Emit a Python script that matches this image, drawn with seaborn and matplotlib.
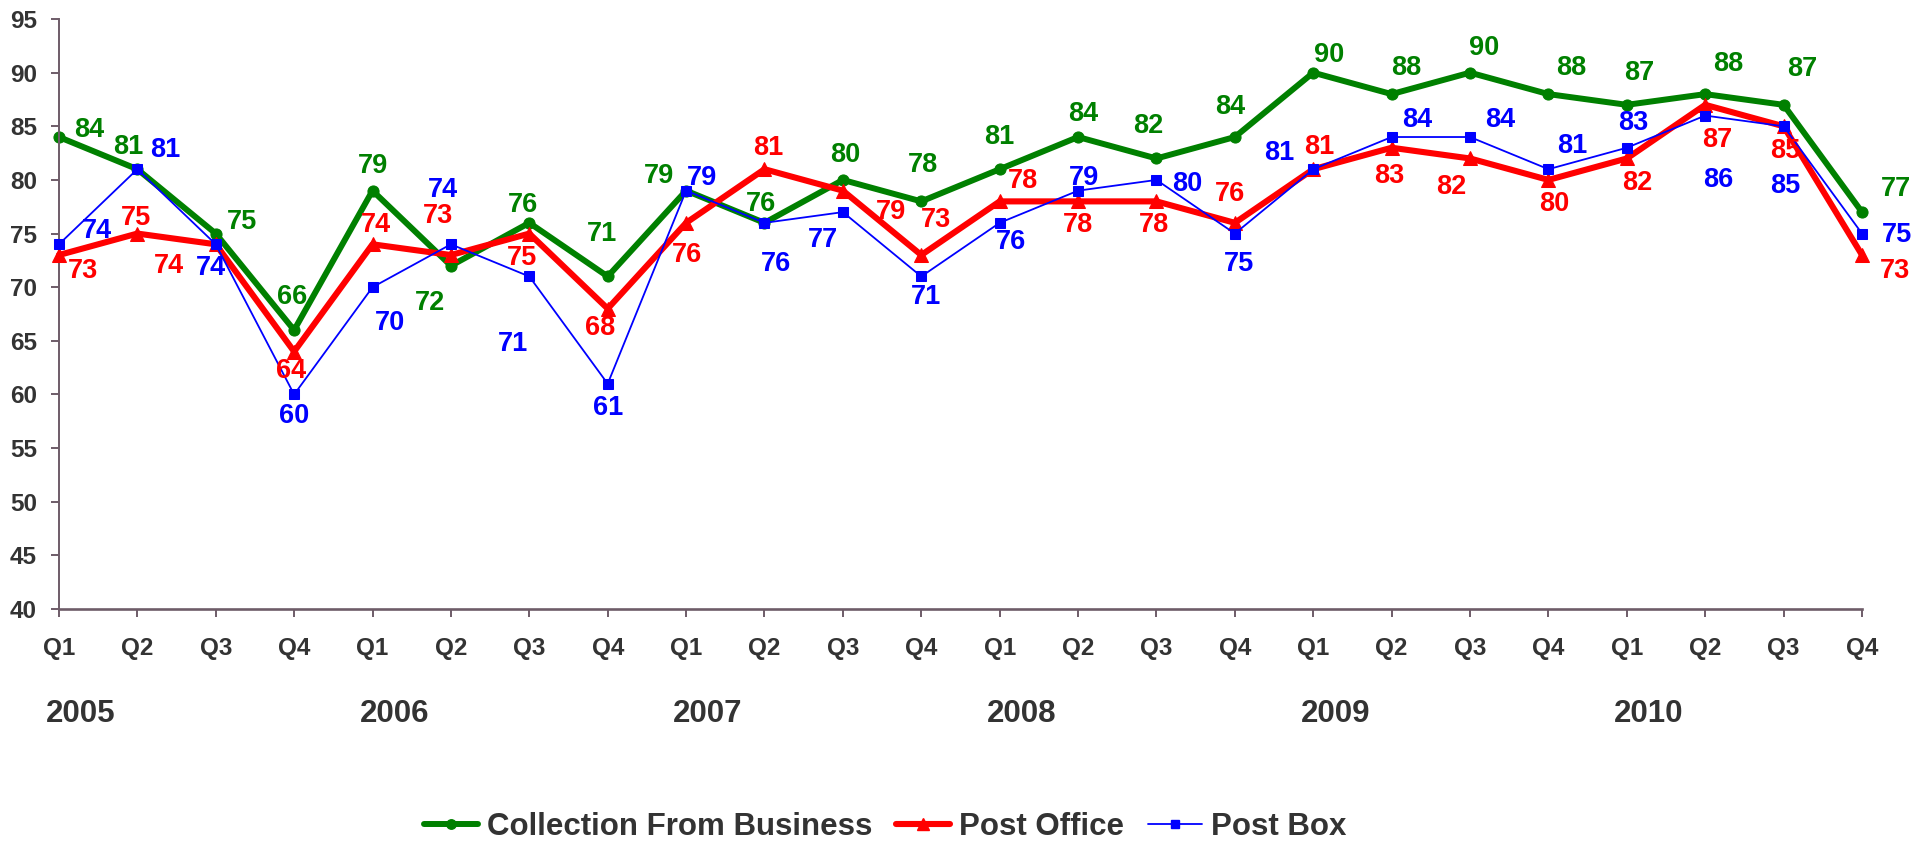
import numpy as np
import pandas as pd
import matplotlib
matplotlib.use('Agg')
import matplotlib.pyplot as plt
import matplotlib.transforms as mtransforms
import seaborn as sns

# ==========================================
# DATA
# ==========================================
quarters = ['Q1', 'Q2', 'Q3', 'Q4'] * 6
years = ['2005', '2006', '2007', '2008', '2009', '2010']

business = [84, 81, 75, 66, 79, 72, 76, 71, 79, 76, 80, 78,
            81, 84, 82, 84, 90, 88, 90, 88, 87, 88, 87, 77]
post_office = [73, 75, 74, 64, 74, 73, 75, 68, 76, 81, 79, 73,
               78, 78, 78, 76, 81, 83, 82, 80, 82, 87, 85, 73]
post_box = [74, 81, 74, 60, 70, 74, 71, 61, 79, 76, 77, 71,
            76, 79, 80, 75, 81, 84, 84, 81, 83, 86, 85, 75]

# label offsets (pixels, dx right / dy up)
business_off = [(30, 7), (-9, 22), (26, 12), (-2, 33), (0, 25), (-21, -37), (-6, 18), (-6, 42),
                (-27, 15), (-3, 19), (2, 25), (2, 36), (0, 32), (5, 23), (-8, 32), (-5, 30),
                (16, 18), (15, 26), (14, 25), (23, 26), (12, 32), (23, 30), (19, 36), (34, 23)]
office_off = [(24, -16), (-1, 16), (-47, -22), (-3, -19), (3, 19), (-13, 39), (-7, -24), (-8, -19),
              (1, -32), (4, 21), (48, -21), (15, 35), (23, 20), (0, -24), (-2, -24), (-5, 29),
              (6, 22), (-2, -28), (-19, -29), (6, -24), (10, -25), (12, -35), (2, -25), (33, -16)]
box_off = [(38, 13), (28, 19), (-5, -24), (0, -22), (17, -36), (-8, 54), (-16, -68), (0, -24),
           (16, 13), (12, -41), (-20, -28), (5, -21), (11, -19), (6, 13), (31, -4), (4, -30),
           (-34, 16), (26, 17), (30, 17), (24, 23), (6, 25), (13, -64), (2, -60), (35, -1)]

x = np.arange(len(quarters))
df = pd.DataFrame({'x': x, 'business': business, 'office': post_office, 'box': post_box})

# ==========================================
# STYLE
# ==========================================
sns.set_style('white')
plt.rcParams['font.family'] = ['Liberation Sans', 'DejaVu Sans']
plt.rcParams['font.weight'] = 'bold'

GREEN, RED, BLUE = '#008000', '#FF0000', '#0000FF'
TXT = '#333333'
AXC = '#6E5C68'

fig = plt.figure(figsize=(19.2, 8.41), dpi=100)
ax = fig.add_axes([0.0307, 0.2758, 0.9391, 0.7016])

series = [
    ('business', 'Collection From Business', GREEN, 'o', 4.3, 8, 2, business_off),
    ('office', 'Post Office', RED, '^', 4.4, 9.5, 3, office_off),
    ('box', 'Post Box', BLUE, 's', 1.3, 7.3, 4, box_off),
]

for col, name, color, marker, lw, ms, z, offs in series:
    sns.lineplot(data=df, x='x', y=col, ax=ax, color=color, marker=marker,
                 markersize=ms, markeredgecolor=color, linewidth=lw, label=name,
                 zorder=z, clip_on=False, legend=False)
    for xi, v, (dx, dy) in zip(df['x'], df[col], offs):
        ax.annotate(str(v), (xi, v), xytext=(dx, dy), textcoords='offset pixels',
                    ha='center', va='center', color=color, fontsize=19.5,
                    fontweight='bold', zorder=6, annotation_clip=False)

ax.set_xlim(0, len(quarters) - 1)
ax.set_ylim(40, 95)
ax.set_yticks(np.arange(40, 96, 5))
ax.set_xticks(x)
ax.set_xticklabels(quarters)
ax.set_xlabel('')
ax.set_ylabel('')

for s in ['top', 'right']:
    ax.spines[s].set_visible(False)
ax.spines['left'].set_color(AXC)
ax.spines['left'].set_linewidth(1.4)
ax.spines['bottom'].set_color(AXC)
ax.spines['bottom'].set_linewidth(1.9)

ax.tick_params(axis='y', direction='out', length=5.8, width=1.4, color=AXC,
               labelsize=17.5, labelcolor=TXT, pad=10, left=True)
ax.tick_params(axis='x', direction='out', length=5.8, width=1.4, color=AXC,
               labelsize=17.5, labelcolor=TXT, pad=14.5, bottom=True)
for lbl in ax.get_xticklabels() + ax.get_yticklabels():
    lbl.set_fontweight('bold')

# year labels under the Q1 ticks
trans = mtransforms.blended_transform_factory(ax.transData, ax.transAxes)
for i, yr in enumerate(years):
    ax.text(i * 4 + 0.28, -0.178, yr, transform=trans, ha='center', va='center',
            fontsize=22.5, fontweight='bold', color=TXT)

# legend
handles = [plt.Line2D([], [], color=c, marker=m, markersize=ms * 0.85, linewidth=lw)
           for _, _, c, m, lw, ms, _, _ in series]
labels = [name for _, name, *_ in series]
fig.legend(handles, labels, loc='center', bbox_to_anchor=(0.461, 0.0165), ncol=3,
           frameon=False, handlelength=1.73, handletextpad=0.3,
           columnspacing=0.75, labelcolor=TXT, prop={'weight': 'bold', 'size': 22.5})

fig.savefig('out.png', dpi=100)
